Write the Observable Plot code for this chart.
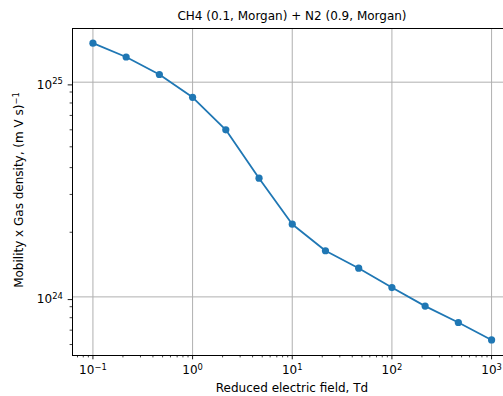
<!DOCTYPE html>
<html><head><meta charset="utf-8">
<script src="https://cdn.jsdelivr.net/npm/d3@7"></script>
<script src="https://cdn.jsdelivr.net/npm/@observablehq/plot@0.6"></script>
<style>html,body{margin:0;padding:0;background:#fff;}</style>
</head><body><div id="chart"></div>
<script>
const title = "CH4 (0.1, Morgan) + N2 (0.9, Morgan)";
const xLabel = "Reduced electric field, Td";
const yLabel = "Mobility x Gas density, (m V s)^\u22121";
const fields = [0.1, 0.2154, 0.4642, 1, 2.154, 4.642, 10, 21.54, 46.42, 100, 215.4, 464.2, 1000];
const mobility = [1.52e25, 1.31e25, 1.086e25, 8.5e24, 6.0e24, 3.57e24, 2.18e24, 1.64e24, 1.36e24, 1.105e24, 9.06e23, 7.6e23, 6.3e23];
const xTicks = [0.1, 1, 10, 100, 1000];
const xTickLabels = ["10^\u22121", "10^0", "10^1", "10^2", "10^3"];
const yTicks = [1e24, 1e25];
const yTickLabels = ["10^24", "10^25"];

const xDomain = [Math.pow(10, -1.205), Math.pow(10, 3.2)];
const yDomain = [Math.pow(10, 23.727), Math.pow(10, 25.25)];
const data = fields.map((f, i) => ({field: f, mobility: mobility[i]}));
const minor = (lo, hi, dom) => {
  const out = [];
  for (let e = lo; e <= hi; e++) for (let m = 2; m <= 9; m++) {
    const v = m * Math.pow(10, e);
    if (v >= dom[0] && v <= dom[1]) out.push(v);
  }
  return out;
};
const xMinor = minor(-2, 3, xDomain);
const yMinor = minor(23, 25, yDomain);
const blue = "#1f77b4";

const chart = Plot.plot({
  width: 503, height: 396,
  marginLeft: 72, marginRight: -8, marginTop: 28, marginBottom: 41,
  style: {fontFamily: "DejaVu Sans", fontSize: "12px", color: "black", background: "white"},
  x: {type: "log", domain: xDomain},
  y: {type: "log", domain: yDomain},
  marks: [
    Plot.gridX(xTicks, {stroke: "#b0b0b0", strokeOpacity: 1, strokeWidth: 1}),
    Plot.gridY(yTicks, {stroke: "#b0b0b0", strokeOpacity: 1, strokeWidth: 1}),
    Plot.axisX(xMinor, {anchor: "bottom", tickSize: 2.4, strokeWidth: 0.75, tickFormat: () => "", label: null}),
    Plot.axisX(xTicks, {anchor: "bottom", tickSize: 4.3, tickPadding: 6, strokeWidth: 0.9, tickFormat: d => xTickLabels[xTicks.indexOf(d)], label: null}),
    Plot.axisY(yMinor, {anchor: "left", tickSize: 2.4, strokeWidth: 0.75, tickFormat: () => "", label: null}),
    Plot.axisY(yTicks, {anchor: "left", tickSize: 4.3, tickPadding: 5.4, dy: 2.7, strokeWidth: 0.9, tickFormat: d => yTickLabels[yTicks.indexOf(d)], label: null}),
    Plot.line(data, {x: "field", y: "mobility", stroke: blue, strokeWidth: 1.8}),
    Plot.dot(data, {x: "field", y: "mobility", fill: blue, r: 3.6}),
    Plot.frame({stroke: "black", strokeWidth: 1}),
    Plot.text([title], {text: d => d, frameAnchor: "top", lineAnchor: "middle", dy: -12.5, fontSize: 12}),
    Plot.text([xLabel], {text: d => d, frameAnchor: "bottom", lineAnchor: "middle", dy: 33, fontSize: 12}),
    Plot.text([yLabel], {text: d => d, frameAnchor: "left", textAnchor: "middle", lineAnchor: "middle", rotate: -90, dx: -53, dy: -2, fontSize: 12})
  ]
});

const ns = "http://www.w3.org/2000/svg";
chart.querySelectorAll("text").forEach(t => {
  const s = t.textContent;
  if (s.includes("^")) {
    const [base, exp] = s.split("^");
    t.textContent = "";
    const a = document.createElementNS(ns, "tspan");
    a.textContent = base;
    const b = document.createElementNS(ns, "tspan");
    b.setAttribute("font-size", "0.7em");
    b.setAttribute("dy", "-0.55em");
    b.textContent = exp;
    t.append(a, b);
  }
});
document.getElementById("chart").append(chart);
</script>
</body></html>
